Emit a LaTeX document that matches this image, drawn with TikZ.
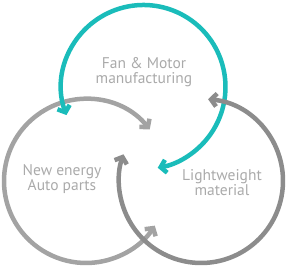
\documentclass[tikz,border=0pt]{standalone}
\usepackage{fontspec}
\setmainfont{PT Sans}
\usetikzlibrary{calc}
\usetikzlibrary{arrows.meta}

\definecolor{tealring}{RGB}{26,188,186}
\definecolor{lightring}{RGB}{163,163,163}
\definecolor{darkring}{RGB}{140,140,140}
\definecolor{labelgray}{RGB}{170,170,170}

\begin{document}
\begin{tikzpicture}[
        x=1pt, y=1pt,
        line join=miter,
        ring/.style={line width=4.5pt, {Straight Barb[length=5.5pt,width=13pt]}-{Straight Barb[length=5.5pt,width=13pt]}},
        lbl/.style={text=labelgray, align=center, font=\fontsize{15.5}{15}\selectfont}
    ]
        \useasboundingbox (0,0) rectangle (290,267);

        % centri dei tre cerchi
        \coordinate (cfan) at (143.5,180);
        \coordinate (cauto) at (86,86);
        \coordinate (clight) at (201,86);

        % cerchio a sinistra
        \draw[ring, lightring] ($(cauto)+(39:82)$) arc[start angle=39, end angle=327, radius=82pt];

        % cerchio in alto
        \draw[ring, tealring] ($(cfan)+(200:82)$) arc[start angle=200, end angle=-80, radius=82pt];

        % cerchio a destra
        \draw[ring, darkring] ($(clight)+(85:82)$) arc[start angle=85, end angle=-199, radius=82pt];

        % testi
        \node[lbl] (fan) at (144,195) {Fan \& Motor\\manufacturing};
        \node[lbl] (auto) at (62,87.5) {New energy\\Auto parts};
        \node[lbl] (light) at (222,84.5) {Lightweight\\material};
    \end{tikzpicture}
\end{document}
